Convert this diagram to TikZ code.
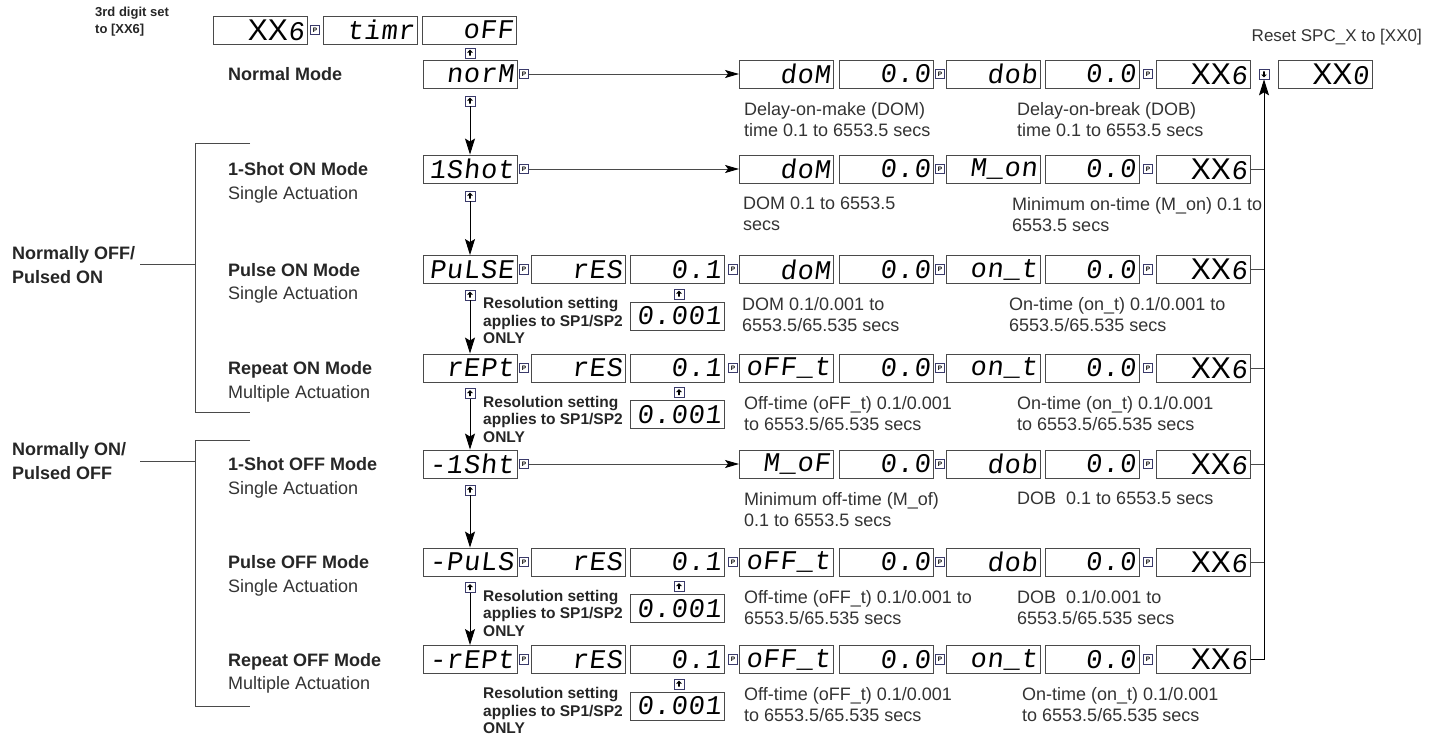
\documentclass[tikz,border=0pt]{standalone}
\usepackage{fontspec}
\setmainfont{Liberation Sans}
\newfontfamily\segf{Liberation Mono}[FakeSlant=0.12,LetterSpace=3]
\newfontfamily\xxf{Liberation Sans}
\usetikzlibrary{calc,arrows.meta}
\definecolor{linec}{HTML}{4A4A4A}
\definecolor{txtc}{HTML}{333333}
\definecolor{iconc}{HTML}{3A3A6A}
\tikzset{
 disp/.style={draw=linec, line width=0.9pt, minimum width=94pt, minimum height=28pt, inner sep=0pt, text width=87pt, align=right, font=\segf\fontsize{27}{27}\selectfont},
 pbox/.style={draw=iconc, fill=white, line width=0.7pt, minimum size=9.5pt, inner sep=0pt, font=\bfseries\fontsize{6.5}{6.5}\selectfont},
 upicon/.style={draw=iconc, fill=white, line width=0.7pt, minimum size=10pt, inner sep=0pt, path picture={
   \fill[black] ($(path picture bounding box.center)+(0pt,3.3pt)$) -- ++(-2.8pt,-2.8pt) -- ++(1.9pt,0pt) -- ++(0pt,-3.2pt) -- ++(1.8pt,0pt) -- ++(0pt,3.2pt) -- ++(1.9pt,0pt) -- cycle;}},
 downicon/.style={draw=iconc, fill=white, line width=0.7pt, minimum size=10pt, inner sep=0pt, path picture={
   \fill[black] ($(path picture bounding box.center)+(0pt,-3.3pt)$) -- ++(-2.8pt,2.8pt) -- ++(1.9pt,0pt) -- ++(0pt,3.2pt) -- ++(1.8pt,0pt) -- ++(0pt,-3.2pt) -- ++(1.9pt,0pt) -- cycle;}},
 flow/.style={draw=black, line width=0.9pt, -{Stealth[length=16pt,width=10pt,inset=3pt]}},
 hflow/.style={draw=linec, line width=0.9pt, -{Stealth[length=14pt,width=8pt,inset=3pt,color=black]}},
 conn/.style={draw=linec, line width=0.9pt},
 modet/.style={font=\bfseries\fontsize{18}{21}\selectfont, anchor=base west, inner sep=0pt, text=black!85},
 modes/.style={font=\fontsize{18}{21}\selectfont, anchor=base west, inner sep=0pt, text=txtc},
 desc/.style={font=\fontsize{18}{21}\selectfont, align=left, anchor=north west, inner sep=0pt, text=txtc},
 res/.style={font=\bfseries\fontsize{15.5}{17.5}\selectfont, align=left, anchor=north west, inner sep=0pt, text=black!85},
 grp/.style={font=\bfseries\fontsize{18}{24}\selectfont, align=left, anchor=north west, inner sep=0pt, text=black!85},
}
\newcommand{\xxsix}{{\xxf\fontsize{30}{30}\selectfont XX}6}
\begin{document}
\begin{tikzpicture}[x=1pt,y=-1pt]
\useasboundingbox (0,0) rectangle (1432,736);

% ---------- top row
\node[font=\bfseries\fontsize{13}{17}\selectfont, align=left, anchor=north west, inner sep=0pt, text=black!85] (hdr) at (95,7) {3rd digit set\\to [XX6]};
\node[disp] (t1) at (260.5,30) {\xxsix};
\node[pbox] (tp) at (315,30) {P};
\node[disp] (t2) at (370.5,30) {timr};
\node[disp] (t3) at (469.5,30) {oFF};
\node[upicon] (ti) at (470,53) {};
\node[anchor=base east, inner sep=0pt, font=\fontsize{17}{20}\selectfont, text=txtc] (reset) at (1422,41) {Reset SPC\_X to [XX0]};

% ---------- Normal mode
\node[modet] (nm) at (228,80.5) {Normal Mode};
\node[disp] (n1) at (470,74) {norM};
\node[pbox] (np) at (524,74) {P};
\node[disp] (n4) at (786.5,74) {doM};
\node[disp] (n5) at (886.5,74) {0.0};
\node[pbox] (np5) at (940,74) {P};
\node[disp] (n6) at (993.5,74) {dob};
\node[disp] (n7) at (1092,74) {0.0};
\node[pbox] (np7) at (1148,74) {P};
\node[disp] (n8) at (1203.5,74) {\xxsix};
\node[downicon] (ndi) at (1264,74) {};
\node[disp] (n9) at (1325,74) {{\xxf\fontsize{30}{30}\selectfont XX}0};
\node[upicon] (ni) at (470,101) {};
\node[desc] (nd1) at (744,102) {Delay-on-make (DOM)\\time 0.1 to 6553.5 secs};
\node[desc] (nd2) at (1017,102) {Delay-on-break (DOB)\\time 0.1 to 6553.5 secs};
\draw[hflow] (np.east) -- (n4.west);

% ---------- 1-Shot ON
\node[modet] (am) at (228,175.5) {1-Shot ON Mode};
\node[modes] (as) at (228,199) {Single Actuation};
\node[disp] (a1) at (470,169) {1Shot};
\node[pbox] (ap) at (524,169) {P};
\node[disp] (a4) at (786.5,169) {doM};
\node[disp] (a5) at (886.5,169) {0.0};
\node[pbox] (ap5) at (940,169) {P};
\node[disp] (a6) at (993.5,169) {M\_on};
\node[disp] (a7) at (1092,169) {0.0};
\node[pbox] (ap7) at (1148,169) {P};
\node[disp] (a8) at (1203.5,169) {\xxsix};
\node[upicon] (ai) at (470,196) {};
\node[desc] (ad1) at (743,197) {DOM 0.1 to 6553.5\\secs};
\node[desc] (ad2) at (1012,197) {Minimum on-time (M\_on) 0.1 to\\6553.5 secs};
\draw[hflow] (ap.east) -- (a4.west);

% ---------- Pulse ON
\node[modet] (bm) at (228,276) {Pulse ON Mode};
\node[modes] (bs) at (228,299.5) {Single Actuation};
\node[disp] (b1) at (470,269.5) {PuLSE};
\node[pbox] (bp) at (524,269.5) {P};
\node[disp] (b2) at (578.5,269.5) {rES};
\node[disp] (b3) at (677.5,269.5) {0.1};
\node[pbox] (bp3) at (733,269.5) {P};
\node[disp] (b4) at (786.5,269.5) {doM};
\node[disp] (b5) at (886.5,269.5) {0.0};
\node[pbox] (bp5) at (940,269.5) {P};
\node[disp] (b6) at (993.5,269.5) {on\_t};
\node[disp] (b7) at (1092,269.5) {0.0};
\node[pbox] (bp7) at (1148,269.5) {P};
\node[disp] (b8) at (1203.5,269.5) {\xxsix};
\node[upicon] (bi) at (470,295) {};
\node[upicon] (bri) at (679,294) {};
\node[disp] (b0) at (677.5,316) {0.001};
\node[res] (br) at (483,297.5) {Resolution setting\\applies to SP1/SP2\\ONLY};
\node[desc] (bd1) at (742,297.5) {DOM 0.1/0.001 to\\6553.5/65.535 secs};
\node[desc] (bd2) at (1009,297.5) {On-time (on\_t) 0.1/0.001 to\\6553.5/65.535 secs};

% ---------- Repeat ON
\node[modet] (cm) at (228,374.5) {Repeat ON Mode};
\node[modes] (cs) at (228,398) {Multiple Actuation};
\node[disp] (c1) at (470,368) {rEPt};
\node[pbox] (cp) at (524,368) {P};
\node[disp] (c2) at (578.5,368) {rES};
\node[disp] (c3) at (677.5,368) {0.1};
\node[pbox] (cp3) at (733,368) {P};
\node[disp] (c4) at (786.5,368) {oFF\_t};
\node[disp] (c5) at (886.5,368) {0.0};
\node[pbox] (cp5) at (940,368) {P};
\node[disp] (c6) at (993.5,368) {on\_t};
\node[disp] (c7) at (1092,368) {0.0};
\node[pbox] (cp7) at (1148,368) {P};
\node[disp] (c8) at (1203.5,368) {\xxsix};
\node[upicon] (ci) at (470,393.5) {};
\node[upicon] (cri) at (679,392.5) {};
\node[disp] (c0) at (677.5,414.5) {0.001};
\node[res] (cr) at (483,396) {Resolution setting\\applies to SP1/SP2\\ONLY};
\node[desc] (cd1) at (744,396) {Off-time (oFF\_t) 0.1/0.001\\to 6553.5/65.535 secs};
\node[desc] (cd2) at (1017,396) {On-time (on\_t) 0.1/0.001\\to 6553.5/65.535 secs};

% ---------- 1-Shot OFF
\node[modet] (dm) at (228,470.5) {1-Shot OFF Mode};
\node[modes] (ds) at (228,494) {Single Actuation};
\node[disp] (d1) at (470,464) {-1Sht};
\node[pbox] (dp) at (524,464) {P};
\node[disp] (d4) at (786.5,464) {M\_oF};
\node[disp] (d5) at (886.5,464) {0.0};
\node[pbox] (dp5) at (940,464) {P};
\node[disp] (d6) at (993.5,464) {dob};
\node[disp] (d7) at (1092,464) {0.0};
\node[pbox] (dp7) at (1148,464) {P};
\node[disp] (d8) at (1203.5,464) {\xxsix};
\node[upicon] (di) at (470,490) {};
\node[desc] (dd1) at (744,492) {Minimum off-time (M\_of)\\0.1 to 6553.5 secs};
\node[desc] (dd2) at (1017,492) {DOB\ \ 0.1 to 6553.5 secs};
\draw[hflow] (dp.east) -- (d4.west);

% ---------- Pulse OFF
\node[modet] (em) at (228,568.5) {Pulse OFF Mode};
\node[modes] (es) at (228,592) {Single Actuation};
\node[disp] (e1) at (470,562) {-PuLS};
\node[pbox] (ep) at (524,562) {P};
\node[disp] (e2) at (578.5,562) {rES};
\node[disp] (e3) at (677.5,562) {0.1};
\node[pbox] (ep3) at (733,562) {P};
\node[disp] (e4) at (786.5,562) {oFF\_t};
\node[disp] (e5) at (886.5,562) {0.0};
\node[pbox] (ep5) at (940,562) {P};
\node[disp] (e6) at (993.5,562) {dob};
\node[disp] (e7) at (1092,562) {0.0};
\node[pbox] (ep7) at (1148,562) {P};
\node[disp] (e8) at (1203.5,562) {\xxsix};
\node[upicon] (ei) at (470,587.5) {};
\node[upicon] (eri) at (679,586.5) {};
\node[disp] (e0) at (677.5,608.5) {0.001};
\node[res] (er) at (483,590) {Resolution setting\\applies to SP1/SP2\\ONLY};
\node[desc] (ed1) at (744,590) {Off-time (oFF\_t) 0.1/0.001 to\\6553.5/65.535 secs};
\node[desc] (ed2) at (1017,590) {DOB\ \ 0.1/0.001 to\\6553.5/65.535 secs};

% ---------- Repeat OFF
\node[modet] (fm) at (228,666) {Repeat OFF Mode};
\node[modes] (fs) at (228,689.5) {Multiple Actuation};
\node[disp] (f1) at (470,659.5) {-rEPt};
\node[pbox] (fp) at (524,659.5) {P};
\node[disp] (f2) at (578.5,659.5) {rES};
\node[disp] (f3) at (677.5,659.5) {0.1};
\node[pbox] (fp3) at (733,659.5) {P};
\node[disp] (f4) at (786.5,659.5) {oFF\_t};
\node[disp] (f5) at (886.5,659.5) {0.0};
\node[pbox] (fp5) at (940,659.5) {P};
\node[disp] (f6) at (993.5,659.5) {on\_t};
\node[disp] (f7) at (1092,659.5) {0.0};
\node[pbox] (fp7) at (1148,659.5) {P};
\node[disp] (f8) at (1203.5,659.5) {\xxsix};
\node[upicon] (fri) at (679,684) {};
\node[disp] (f0) at (677.5,706) {0.001};
\node[res] (fr) at (483,687.5) {Resolution setting\\applies to SP1/SP2\\ONLY};
\node[desc] (fd1) at (744,687.5) {Off-time (oFF\_t) 0.1/0.001\\to 6553.5/65.535 secs};
\node[desc] (fd2) at (1022,687.5) {On-time (on\_t) 0.1/0.001\\to 6553.5/65.535 secs};

% ---------- vertical mode chain
\draw[flow] (ni.south) -- (a1.north);
\draw[flow] (ai.south) -- (b1.north);
\draw[flow] (bi.south) -- (c1.north);
\draw[flow] (ci.south) -- (d1.north);
\draw[flow] (di.south) -- (e1.north);
\draw[flow] (ei.south) -- (f1.north);

% ---------- return line on the right
\coordinate (rv) at (1264,659.5);
\draw[flow] (f8.east) -- (rv) -- (ndi.south);
\foreach \r in {a8,b8,c8,d8,e8} \draw[conn] (\r.east) -- (\r.east -| rv);

% ---------- group brackets
\node[grp] (g1) at (12,246.5) {Normally OFF/\\Pulsed ON};
\coordinate (g1t) at (250,143);
\coordinate (g1b) at (250,412);
\coordinate (g1m) at (195,264);
\draw[conn] (g1t) -- (195,143) -- (195,412) -- (g1b);
\draw[conn] (140,264) -- (g1m);
\node[grp] (g2) at (12,442.5) {Normally ON/\\Pulsed OFF};
\coordinate (g2t) at (250,440);
\coordinate (g2b) at (250,706);
\coordinate (g2m) at (195,461);
\draw[conn] (g2t) -- (195,440) -- (195,706) -- (g2b);
\draw[conn] (140,461) -- (g2m);
\end{tikzpicture}
\end{document}
